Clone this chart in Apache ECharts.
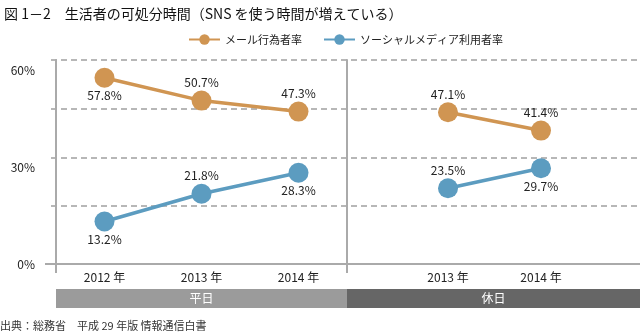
<!DOCTYPE html>
<html><head><meta charset="utf-8">
<script src="https://cdn.jsdelivr.net/npm/echarts@6/dist/echarts.min.js"></script>
<style>html,body{margin:0;padding:0;background:#fff}#c{width:640px;height:336px}</style>
</head><body><div id="c"></div>
<script>
// ---- data ----
const titleText = '図 1－2　生活者の可処分時間（SNS を使う時間が増えている）';
const sourceText = '出典：総務省　平成 29 年版 情報通信白書';
const seriesNames = ['メール行為者率', 'ソーシャルメディア利用者率'];
const weekdayYears = ['2012 年', '2013 年', '2014 年'];
const holidayYears = ['2013 年', '2014 年'];
const mailWeekday = [57.8, 50.7, 47.3];
const snsWeekday = [13.2, 21.8, 28.3];
const mailHoliday = [47.1, 41.4];
const snsHoliday = [23.5, 29.7];
const panelNames = ['平日', '休日'];
const yTickLabels = [0, 30, 60];

// ---- styles ----
const mailLabelPosWeekday = ['bottom', 'top', 'top'];
const snsLabelPosWeekday = ['bottom', 'top', 'bottom'];
const mailLabelPosHoliday = ['top', 'top'];
const snsLabelPosHoliday = ['top', 'bottom'];
const orange = '#D09552';
const blue = '#5C9CC0';
const FONT = '"Noto Sans CJK JP", "Noto Sans", sans-serif';
const axisGrey = '#aaaaaa';

function items(vals, pos) {
  return vals.map((v, i) => ({ value: v, label: { position: pos[i] } }));
}
function mkSeries(name, color, xi, vals, pos) {
  return {
    type: 'line', name: name, xAxisIndex: xi, yAxisIndex: xi,
    data: items(vals, pos),
    symbol: 'circle', symbolSize: 20,
    lineStyle: { color: color, width: 3.5 },
    itemStyle: { color: color },
    label: { show: true, distance: 2, fontSize: 12, color: '#222', fontFamily: FONT,
      formatter: p => p.value.toFixed(1) + '%' },
    emphasis: { disabled: true },
    z: 5, animation: false
  };
}

const chart = echarts.init(document.getElementById('c'), null, { renderer: 'canvas' });
chart.setOption({
  animation: false,
  textStyle: { fontFamily: FONT },
  title: { text: titleText, left: -1, top: 2,
    textStyle: { fontSize: 14, fontWeight: 'normal', color: '#111', fontFamily: FONT } },
  legend: {
    data: seriesNames, left: 183, top: 29, itemWidth: 31, itemHeight: 13, itemGap: 21,
    textStyle: { fontSize: 11, color: '#222', fontFamily: FONT }
  },
  grid: [
    { left: 56, top: 60, width: 291, height: 204 },
    { left: 401.5, top: 60, width: 186, height: 204 },
    { left: 51, right: 0, top: 60, height: 146 },
    { left: 347, right: 0, top: 60, height: 204 }
  ],
  xAxis: [
    { type: 'category', gridIndex: 0, data: weekdayYears, boundaryGap: true,
      axisLine: { show: true, lineStyle: { color: axisGrey, width: 2 } },
      axisTick: { show: false },
      axisLabel: { fontSize: 12, color: '#222', margin: 7 } },
    { type: 'category', gridIndex: 1, data: holidayYears, boundaryGap: true,
      axisLine: { show: false }, axisTick: { show: false },
      axisLabel: { fontSize: 12, color: '#222', margin: 7 } },
    { type: 'value', gridIndex: 2, min: 0, max: 1, show: false },
    { type: 'value', gridIndex: 3, min: 0, max: 1,
      axisLine: { show: true, lineStyle: { color: axisGrey, width: 2 } },
      axisTick: { show: false }, axisLabel: { show: false }, splitLine: { show: false } }
  ],
  yAxis: [
    { type: 'value', gridIndex: 0, min: 0, max: 63.3, interval: 30,
      axisLine: { show: true, lineStyle: { color: axisGrey, width: 2 } },
      axisTick: { show: false }, splitLine: { show: false },
      axisLabel: { fontSize: 12, color: '#222', margin: 21,
        formatter: v => (yTickLabels.indexOf(v) >= 0 ? v + '%' : '') } },
    { type: 'value', gridIndex: 1, min: 0, max: 63.3, show: false },
    { type: 'value', gridIndex: 2, min: 0, max: 3, interval: 1,
      axisLine: { show: false }, axisTick: { show: false }, axisLabel: { show: false },
      splitLine: { show: true, lineStyle: { color: '#a0a0a0', width: 1.5, type: [6, 4] } } },
    { type: 'value', gridIndex: 3, min: 0, max: 1,
      axisLine: { show: true, lineStyle: { color: axisGrey, width: 2 } },
      axisTick: { show: false }, axisLabel: { show: false }, splitLine: { show: false } }
  ],
  series: [
    mkSeries(seriesNames[0], orange, 0, mailWeekday, mailLabelPosWeekday),
    mkSeries(seriesNames[1], blue, 0, snsWeekday, snsLabelPosWeekday),
    mkSeries(seriesNames[0], orange, 1, mailHoliday, mailLabelPosHoliday),
    mkSeries(seriesNames[1], blue, 1, snsHoliday, snsLabelPosHoliday)
  ],
  graphic: [
    { type: 'line', shape: { x1: 45, y1: 264, x2: 56, y2: 264 }, style: { stroke: axisGrey, lineWidth: 2 } },
    { type: 'line', shape: { x1: 56, y1: 264, x2: 56, y2: 273 }, style: { stroke: axisGrey, lineWidth: 2 } },
    { type: 'line', shape: { x1: 347, y1: 264, x2: 347, y2: 273 }, style: { stroke: axisGrey, lineWidth: 2 } },
    { type: 'rect', shape: { x: 56, y: 289, width: 291, height: 19 }, style: { fill: '#9b9b9b' } },
    { type: 'rect', shape: { x: 347, y: 289, width: 293, height: 19 }, style: { fill: '#666666' } },
    { type: 'text', x: 201.5, y: 298.5, style: { text: panelNames[0], fill: '#fff', font: '12px ' + FONT, textAlign: 'center', textVerticalAlign: 'middle' } },
    { type: 'text', x: 493.5, y: 298.5, style: { text: panelNames[1], fill: '#fff', font: '12px ' + FONT, textAlign: 'center', textVerticalAlign: 'middle' } },
    { type: 'text', x: 0, y: 326, style: { text: sourceText, fill: '#333', font: '11px ' + FONT, textVerticalAlign: 'middle' } }
  ]
});
</script></body></html>
